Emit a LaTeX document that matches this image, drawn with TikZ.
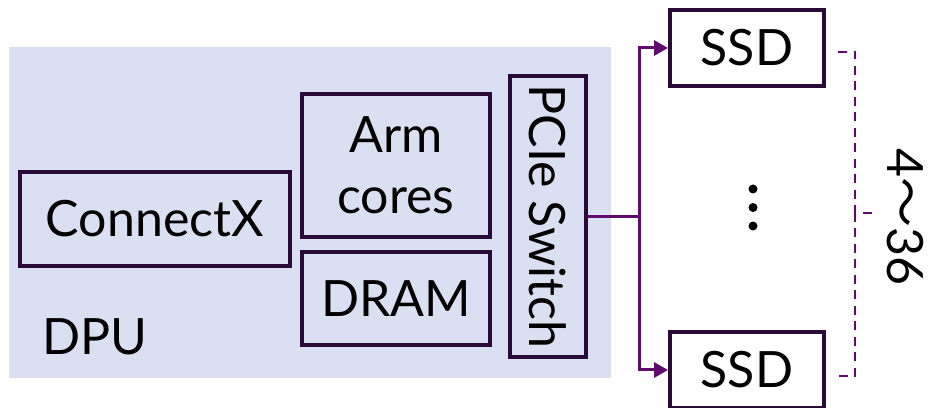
\documentclass[tikz,border=0pt]{standalone}
\usepackage{fontspec}
\setmainfont{Lato}
\newfontfamily\cjkfont{Noto Sans CJK SC}
\usetikzlibrary{arrows.meta,calc}
\definecolor{dpubg}{RGB}{218,224,242}
\definecolor{boxline}{RGB}{42,10,54}
\definecolor{conncol}{RGB}{96,12,110}
\begin{document}
\begin{tikzpicture}[x=0.02cm,y=-0.02cm,
  blk/.style={draw=boxline,line width=0.08cm,rectangle,inner sep=0pt,align=center,
    font=\fontsize{28.5}{35}\selectfont,text=black},
  conn/.style={draw=conncol,line width=0.06cm},
  arr/.style={conn,-{Triangle[length=0.28cm,width=0.3cm]}},
  brk/.style={draw=conncol,line width=0.05cm,dash pattern=on 0.18cm off 0.13cm},
  lbl/.style={font=\fontsize{28.5}{35}\selectfont,text=black,inner sep=0pt}]
\useasboundingbox (0,0) rectangle (933,408);
\fill[dpubg] (9,47) rectangle (611,378);
\node[blk,minimum width=5.4cm,minimum height=1.88cm] (cx) at (155,219) {ConnectX};
\node[blk,minimum width=3.76cm,minimum height=2.86cm] (arm) at (396,165.5) {Arm\\cores};
\node[blk,minimum width=3.76cm,minimum height=1.86cm] (dram) at (396,298.5) {DRAM};
\node[blk,minimum width=5.62cm,minimum height=1.52cm,rotate=-90] (psw) at (548,216.5) {PCIe Switch};
\node[blk,minimum width=3.08cm,minimum height=1.52cm] (ssd1) at (747,48) {SSD};
\node[blk,minimum width=3.08cm,minimum height=1.52cm] (ssd2) at (747,370) {SSD};
\node[lbl,anchor=base west] (dpu) at (42,355) {DPU};
\coordinate (bj) at (639,216.5);
\draw[conn] (psw.north) -- (bj);
\draw[arr] (bj) |- (ssd1.west);
\draw[arr] (bj) |- (ssd2.west);
\foreach \yy in {189,207.5,226} \fill[black] (753,\yy) circle (0.09cm);
\draw[brk] (838,52) -- (855,52) -- (855,213) -- (872,213);
\draw[brk] (855,213) -- (855,376) -- (839,376);
\node[lbl,rotate=-90] (cnt) at (905,217) {4{\cjkfont ～}36};
\end{tikzpicture}
\end{document}
